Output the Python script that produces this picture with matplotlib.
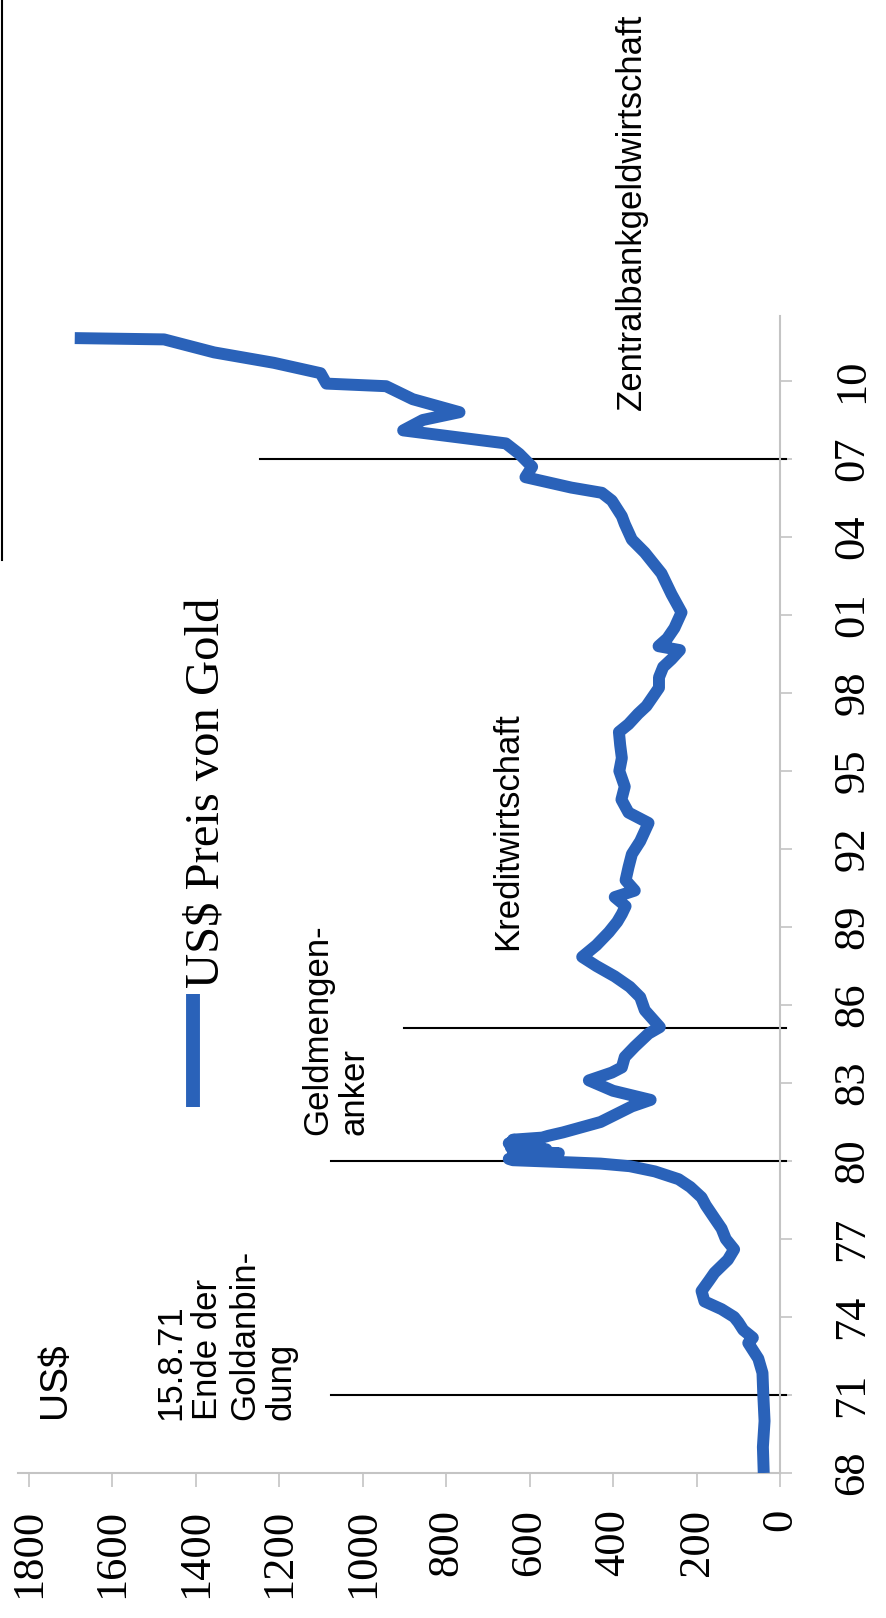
import matplotlib
matplotlib.use("Agg")
import matplotlib.pyplot as plt
from matplotlib.lines import Line2D

# Gold price in US$ (decimal year, price)
years = [
    1968.0, 1969.0, 1970.0, 1971.0, 1971.85, 1972.4, 1973.0, 1973.2, 1973.5,
    1973.8, 1974.0, 1974.3, 1974.6, 1975.0, 1975.4, 1975.7, 1976.2, 1976.6,
    1977.0, 1977.4, 1977.8, 1978.3, 1978.6, 1979.0, 1979.3, 1979.6, 1979.8,
    1979.9, 1979.97, 1980.03, 1980.08, 1980.15, 1980.22, 1980.3, 1980.38,
    1980.45, 1980.52, 1980.6, 1980.68, 1980.75, 1980.82, 1980.9, 1980.97,
    1981.1, 1981.5, 1981.7, 1982.1,
    1982.35, 1982.7, 1983.1, 1983.4, 1983.6, 1984.0, 1984.4, 1984.9, 1985.15,
    1985.8, 1986.3, 1986.7, 1987.1, 1987.5, 1987.85, 1988.3, 1988.8, 1989.2,
    1989.5, 1989.8, 1990.15, 1990.4, 1990.8, 1991.3, 1991.8, 1992.3, 1993.0,
    1993.4, 1993.9, 1994.4, 1995.0, 1995.5, 1996.0, 1996.5, 1996.8, 1997.2,
    1997.5, 1998.2, 1998.6, 1999.0, 1999.3, 1999.65, 1999.8, 2000.1, 2000.5,
    2001.1, 2001.8, 2002.6, 2003.4, 2003.9, 2004.5, 2004.8, 2005.4, 2005.7,
    2005.9, 2006.3, 2006.7, 2007.2, 2007.6, 2008.1, 2008.5, 2008.8, 2009.3,
    2009.8, 2009.9, 2010.3, 2010.7, 2011.1, 2011.6, 2011.65,
]
prices = [
    39, 41, 37, 40, 42, 52, 76, 65, 88,
    100, 110, 140, 181, 188, 170, 157, 125, 110,
    130, 140, 157, 178, 188, 215, 243, 300, 360,
    430, 540, 640, 650, 560, 600, 530, 640, 560,
    645, 590, 650, 600, 640, 570, 555,
    520, 430, 405, 355,
    310, 400, 458, 403, 379, 372, 348, 315, 288,
    324, 335, 360, 396, 440, 474, 440, 410, 390,
    379, 370, 396, 348, 370, 363, 355, 335, 315,
    363, 380, 372, 385, 379, 383, 386, 363, 340,
    320, 290, 290, 280, 260, 240, 291, 270, 253,
    236, 260, 284, 324, 355, 372, 379, 403, 427,
    500, 610, 594, 625, 657, 903, 856, 768, 880,
    944, 1087, 1101, 1213, 1356, 1476, 1690,
]

price_ticks = [0, 200, 400, 600, 800, 1000, 1200, 1400, 1600, 1800]
year_ticks = [1968 + 3 * i for i in range(15)]
year_labels = ["68", "71", "74", "77", "80", "83", "86", "89", "92", "95",
               "98", "01", "04", "07", "10"]

# Regime boundaries: year, upper end of the marker line (US$)
event_years = [1971.0, 1980.0, 1985.1, 2007.0]
event_tops = [1075, 1075, 900, 1245]

# text, price position (centre), year position (start of text), font size
annotations = [
    ("US$", 1738, 1970.1, 28),
    ("15.8.71\nEnde der\nGoldanbin-\ndung", 1328, 1970.05, 25),
    ("Geldmengen-\nanker", 1064, 1981.0, 25),
    ("Kreditwirtschaft", 652, 1988.1, 25),
    ("Zentralbankgeldwirtschaft", 355, 2008.9, 25),
]

BLUE = "#2a62b9"
AXIS_GREY = "#c4c4c4"
W, H = 886, 1618

fig = plt.figure(figsize=(W / 100, H / 100), dpi=100)
fig.patch.set_facecolor("white")

left, right, bottom, top = 18, 780, 1473, 316
ax = fig.add_axes([left / W, 1 - bottom / H, (right - left) / W, (bottom - top) / H])
ax.set_facecolor("white")

# Price runs right-to-left, years bottom-to-top
ax.plot(prices, years, color=BLUE, lw=8.6, solid_joinstyle="round",
        solid_capstyle="butt", zorder=3)

for yr, hi in zip(event_years, event_tops):
    ax.plot([-15, hi], [yr, yr], color="black", lw=1.5, clip_on=False, zorder=2)

ax.set_xlim(1826, 0)
ax.set_ylim(1968, 2012.5)

for side in ("top", "left"):
    ax.spines[side].set_visible(False)
for side in ("bottom", "right"):
    ax.spines[side].set_color(AXIS_GREY)
    ax.spines[side].set_linewidth(1.5)

ax.set_xticks(price_ticks)
ax.set_xticklabels([str(v) for v in price_ticks], rotation=90,
                   family="Liberation Serif", fontsize=32, va="top", ha="center")
ax.tick_params(axis="x", direction="out", length=10, width=1.2,
               color=AXIS_GREY, pad=16)

ax.yaxis.tick_right()
ax.set_yticks(year_ticks)
ax.set_yticklabels(year_labels, rotation=90, family="Liberation Serif",
                   fontsize=32, va="center", ha="left")
ax.tick_params(axis="y", direction="out", length=8.6, width=1.2,
               color=AXIS_GREY, pad=29)

for text, px, yr, size in annotations:
    ax.text(px, yr, text, rotation=90, ha="center", va="bottom",
            family="Liberation Sans", fontsize=size, linespacing=1.15,
            multialignment="left", clip_on=False)

# Legend entry
fig.add_artist(Line2D([193 / W, 193 / W], [1 - 1107 / H, 1 - 994 / H],
                      transform=fig.transFigure, color=BLUE, lw=10,
                      solid_capstyle="butt"))
fig.text(207 / W, 1 - 988 / H, "US$ Preis von Gold", rotation=90,
         ha="center", va="bottom", family="Liberation Serif", fontsize=35)

# Page frame edge at the upper left
fig.add_artist(Line2D([1.5 / W, 1.5 / W], [1 - 560 / H, 1.0],
                      transform=fig.transFigure, color="black", lw=1.5))

fig.savefig("out.png", dpi=100, facecolor="white")
